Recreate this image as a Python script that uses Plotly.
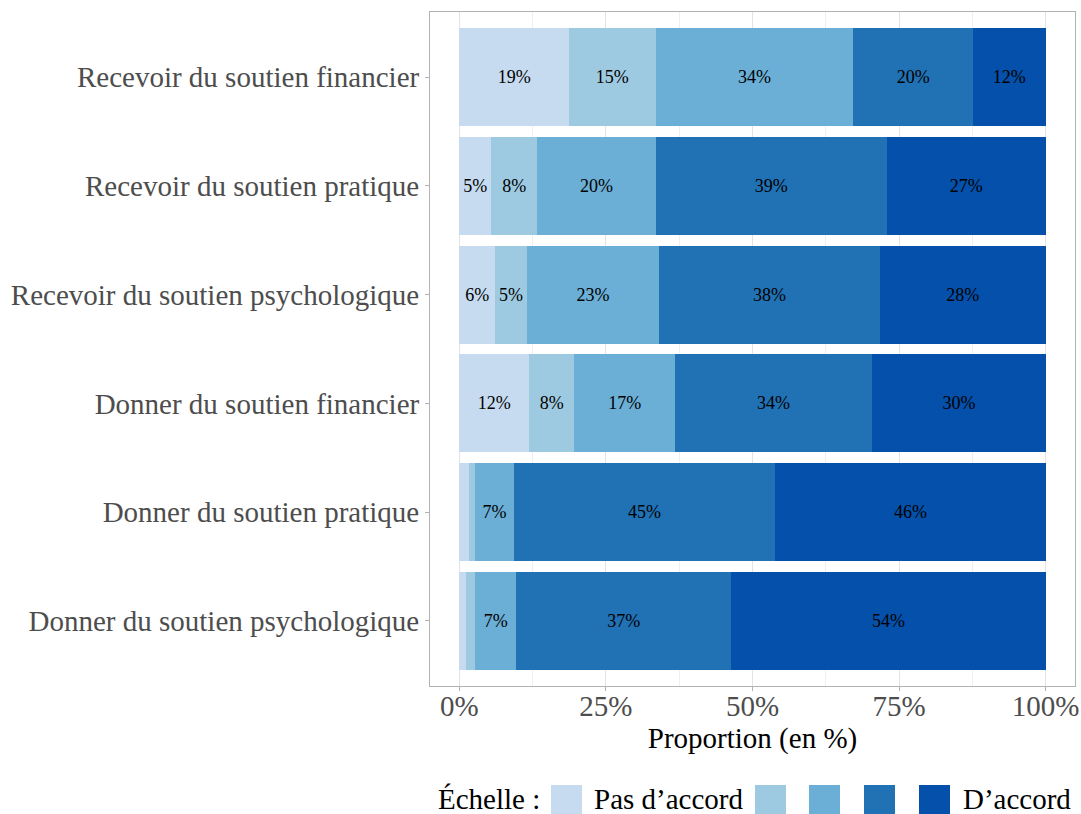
import plotly.graph_objects as go

categories = [
    "Recevoir du soutien financier",
    "Recevoir du soutien pratique",
    "Recevoir du soutien psychologique",
    "Donner du soutien financier",
    "Donner du soutien pratique",
    "Donner du soutien psychologique",
]
levels = ["Pas d’accord", "2", "3", "4", "D’accord"]
colors = ["#C6DBEF", "#9ECAE1", "#6BAED6", "#2171B5", "#0450AA"]

# percentage per level (columns) for each category (same order as categories)
level1 = [18.7, 5.4, 6.1, 11.9, 1.7, 1.2]
level2 = [14.8, 7.9, 5.4, 7.7, 1.0, 1.5]
level3 = [33.7, 20.2, 22.6, 17.2, 6.6, 7.0]
level4 = [20.4, 39.4, 37.6, 33.6, 44.6, 36.7]
level5 = [12.4, 27.1, 28.3, 29.6, 46.1, 53.6]
series = [level1, level2, level3, level4, level5]

xticks = [0, 25, 50, 75, 100]
xticklabels = ["0%", "25%", "50%", "75%", "100%"]

FONT = "Liberation Serif"
FS = 29

fig = go.Figure()
for name, vals, col in zip(levels, series, colors):
    fig.add_trace(go.Bar(
        y=categories, x=vals, orientation="h", name=name,
        marker=dict(color=col, line=dict(width=0)),
        text=[f"{round(v)}%" if v >= 3 else "" for v in vals],
        textposition="inside", insidetextanchor="middle", textangle=0,
        constraintext="none",
        textfont=dict(family=FONT, size=18, color="black"),
        width=0.9, showlegend=False,
    ))

W, H = 1081, 814
ml, mr, mt, mb = 430, 6, 12, 128
pw, ph = W - ml - mr, H - mt - mb

def px(x):
    return (x - ml) / pw

def py(y):
    return (H - mb - y) / ph

# custom legend
shapes = []
annotations = []
annotations.append(dict(x=px(436), y=py(799), xref="paper", yref="paper",
                        text="Échelle :", showarrow=False, xanchor="left", yanchor="middle",
                        font=dict(family=FONT, size=FS, color="black")))
sq_left = [551, 755, 809, 864, 919]
for xl, col in zip(sq_left, colors):
    shapes.append(dict(type="rect", xref="paper", yref="paper",
                       x0=px(xl), x1=px(xl + 31), y0=py(785), y1=py(816),
                       fillcolor=col, line=dict(width=0), layer="above"))
annotations.append(dict(x=px(592), y=py(799), xref="paper", yref="paper",
                        text="Pas d’accord", showarrow=False, xanchor="left", yanchor="middle",
                        font=dict(family=FONT, size=FS, color="black")))
annotations.append(dict(x=px(961), y=py(799), xref="paper", yref="paper",
                        text="D’accord", showarrow=False, xanchor="left", yanchor="middle",
                        font=dict(family=FONT, size=FS, color="black")))

fig.update_layout(
    barmode="stack",
    width=W, height=H,
    margin=dict(l=ml, r=mr, t=mt, b=mb),
    paper_bgcolor="white", plot_bgcolor="white",
    font=dict(family=FONT),
    shapes=shapes, annotations=annotations,
    xaxis=dict(
        range=[-5, 105], tickvals=xticks, ticktext=xticklabels,
        tickfont=dict(family=FONT, size=FS, color="#4D4D4D"),
        ticklabelstandoff=-10,
        showgrid=True, gridcolor="#E3E3E3", gridwidth=1,
        minor=dict(tickvals=[12.5, 37.5, 62.5, 87.5], showgrid=True,
                   gridcolor="#EFEFEF", gridwidth=1, ticks=""),
        showline=True, linecolor="#B3B3B3", linewidth=1, mirror=True,
        ticks="outside", ticklen=4, tickcolor="#B3B3B3",
        zeroline=False, automargin=False,
        title=dict(text="Proportion (en %)", font=dict(family=FONT, size=FS, color="black"),
                   standoff=0),
    ),
    yaxis=dict(
        categoryorder="array", categoryarray=categories[::-1],
        range=[-0.6, 5.6], automargin=False,
        tickfont=dict(family=FONT, size=FS, color="#4D4D4D"),
        showgrid=False,
        showline=True, linecolor="#B3B3B3", linewidth=1, mirror=True,
        ticks="outside", ticklen=4, tickcolor="#B3B3B3",
    ),
)

fig.write_html("out.html", config={"displayModeBar": False},
               post_script="document.body.style.margin='0px';document.body.style.overflow='hidden';")
